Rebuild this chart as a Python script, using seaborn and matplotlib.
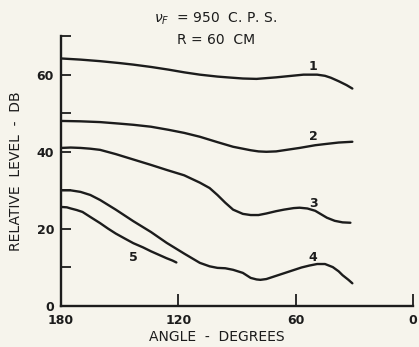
import pandas as pd
import matplotlib.pyplot as plt
import seaborn as sns

# --- Data (angle in degrees, level in dB) ---
angle_1 = [180, 170, 160, 150, 143, 134, 125, 117, 109, 100, 95, 87, 80, 75, 70, 66, 60, 56, 49, 45, 42, 38, 34, 31]
level_1 = [64.2, 63.9, 63.5, 63.0, 62.6, 62.0, 61.3, 60.6, 60.0, 59.5, 59.3, 59.0, 58.9, 59.1, 59.3, 59.5, 59.8, 60.0, 60.0, 59.7, 59.2, 58.3, 57.3, 56.4]

angle_2 = [180, 170, 160, 150, 143, 134, 125, 117, 109, 100, 92, 83, 79, 75, 70, 66, 58, 50, 45, 38, 31]
level_2 = [48.0, 47.9, 47.7, 47.3, 47.0, 46.5, 45.7, 44.9, 43.9, 42.5, 41.3, 40.4, 40.1, 40.0, 40.1, 40.4, 41.0, 41.7, 42.0, 42.4, 42.6]

angle_3 = [180, 175, 170, 165, 160, 152, 143, 134, 126, 117, 109, 104, 100, 96, 92, 87, 83, 79, 75, 70, 66, 61, 58, 54, 50, 47, 44, 40, 36, 32]
level_3 = [41.0, 41.1, 41.0, 40.8, 40.5, 39.4, 38.0, 36.6, 35.3, 33.9, 32.0, 30.6, 28.8, 26.8, 25.0, 23.9, 23.6, 23.6, 24.0, 24.6, 25.0, 25.4, 25.5, 25.3, 24.7, 23.8, 22.9, 22.1, 21.7, 21.6]

angle_4 = [180, 175, 170, 165, 160, 152, 143, 134, 126, 117, 109, 104, 100, 96, 92, 87, 83, 80, 78, 75, 72, 66, 60, 57, 53, 49, 45, 41, 38, 36, 33, 31]
level_4 = [30.0, 30.0, 29.6, 28.8, 27.5, 25.0, 22.0, 19.2, 16.4, 13.6, 11.2, 10.3, 9.9, 9.8, 9.4, 8.6, 7.3, 6.9, 6.8, 7.0, 7.5, 8.5, 9.5, 10.0, 10.5, 10.9, 10.9, 10.1, 9.0, 8.0, 6.8, 5.9]

angle_5 = [180, 177, 175, 172, 169, 165, 160, 156, 152, 147, 143, 138, 134, 130, 126, 123, 121]
level_5 = [25.7, 25.6, 25.3, 24.9, 24.4, 23.1, 21.5, 20.1, 18.8, 17.4, 16.3, 15.2, 14.2, 13.3, 12.4, 11.8, 11.3]

curve_labels = ["1", "2", "3", "4", "5"]
label_angles = [51, 51, 51, 51, 143]
label_levels = [62.0, 44.0, 26.7, 12.7, 12.7]

INK = "#1c1c1c"
PAPER = "#f6f4ec"

sns.set_theme(style="ticks")
plt.rcParams['font.family'] = ['DejaVu Sans']

fig = plt.figure(figsize=(4.19, 3.47), dpi=100, facecolor=PAPER)
ax = fig.add_axes([0.1456, 0.118, 0.840, 0.778])
ax.set_facecolor(PAPER)

curves = [(angle_1, level_1), (angle_2, level_2), (angle_3, level_3),
          (angle_4, level_4), (angle_5, level_5)]
for x, y in curves:
    df = pd.DataFrame({"angle": x, "level": y})
    sns.lineplot(data=df, x="angle", y="level", ax=ax, color=INK,
                 linewidth=1.7, sort=False)

for lab, xa, yl in zip(curve_labels, label_angles, label_levels):
    ax.text(xa, yl, lab, color=INK, fontsize=9, fontweight="bold",
            ha="center", va="center")

ax.set_xlim(180, 0)
ax.set_ylim(0, 70)
ax.set_xticks([180, 120, 60, 0])
ax.set_yticks([0, 20, 40, 60])
ax.set_yticks([10, 30, 50, 70], minor=True)
ax.tick_params(axis="x", direction="in", length=9, width=1.3, colors=INK,
               labelsize=9, pad=6)
ax.tick_params(axis="y", which="both", direction="in", length=7, width=1.3,
               colors=INK, labelsize=9, pad=5)
for t in ax.get_xticklabels() + ax.get_yticklabels():
    t.set_fontweight("bold")

sns.despine(ax=ax)
for s in ["left", "bottom"]:
    ax.spines[s].set_color(INK)
    ax.spines[s].set_linewidth(1.7)

ax.set_xlabel("")
ax.set_ylabel("RELATIVE  LEVEL  -  DB", fontsize=10, color=INK, labelpad=10)
fig.text(0.518, 0.028, "ANGLE  -  DEGREES", ha="center", va="center",
         fontsize=10, color=INK)

fig.text(0.515, 0.945, r"$\nu_F$  = 950  C. P. S.", ha="center", va="center",
         fontsize=10, color=INK)
fig.text(0.515, 0.885, "R = 60  CM", ha="center", va="center",
         fontsize=10, color=INK)

plt.savefig("out.png", dpi=100, facecolor=PAPER)
